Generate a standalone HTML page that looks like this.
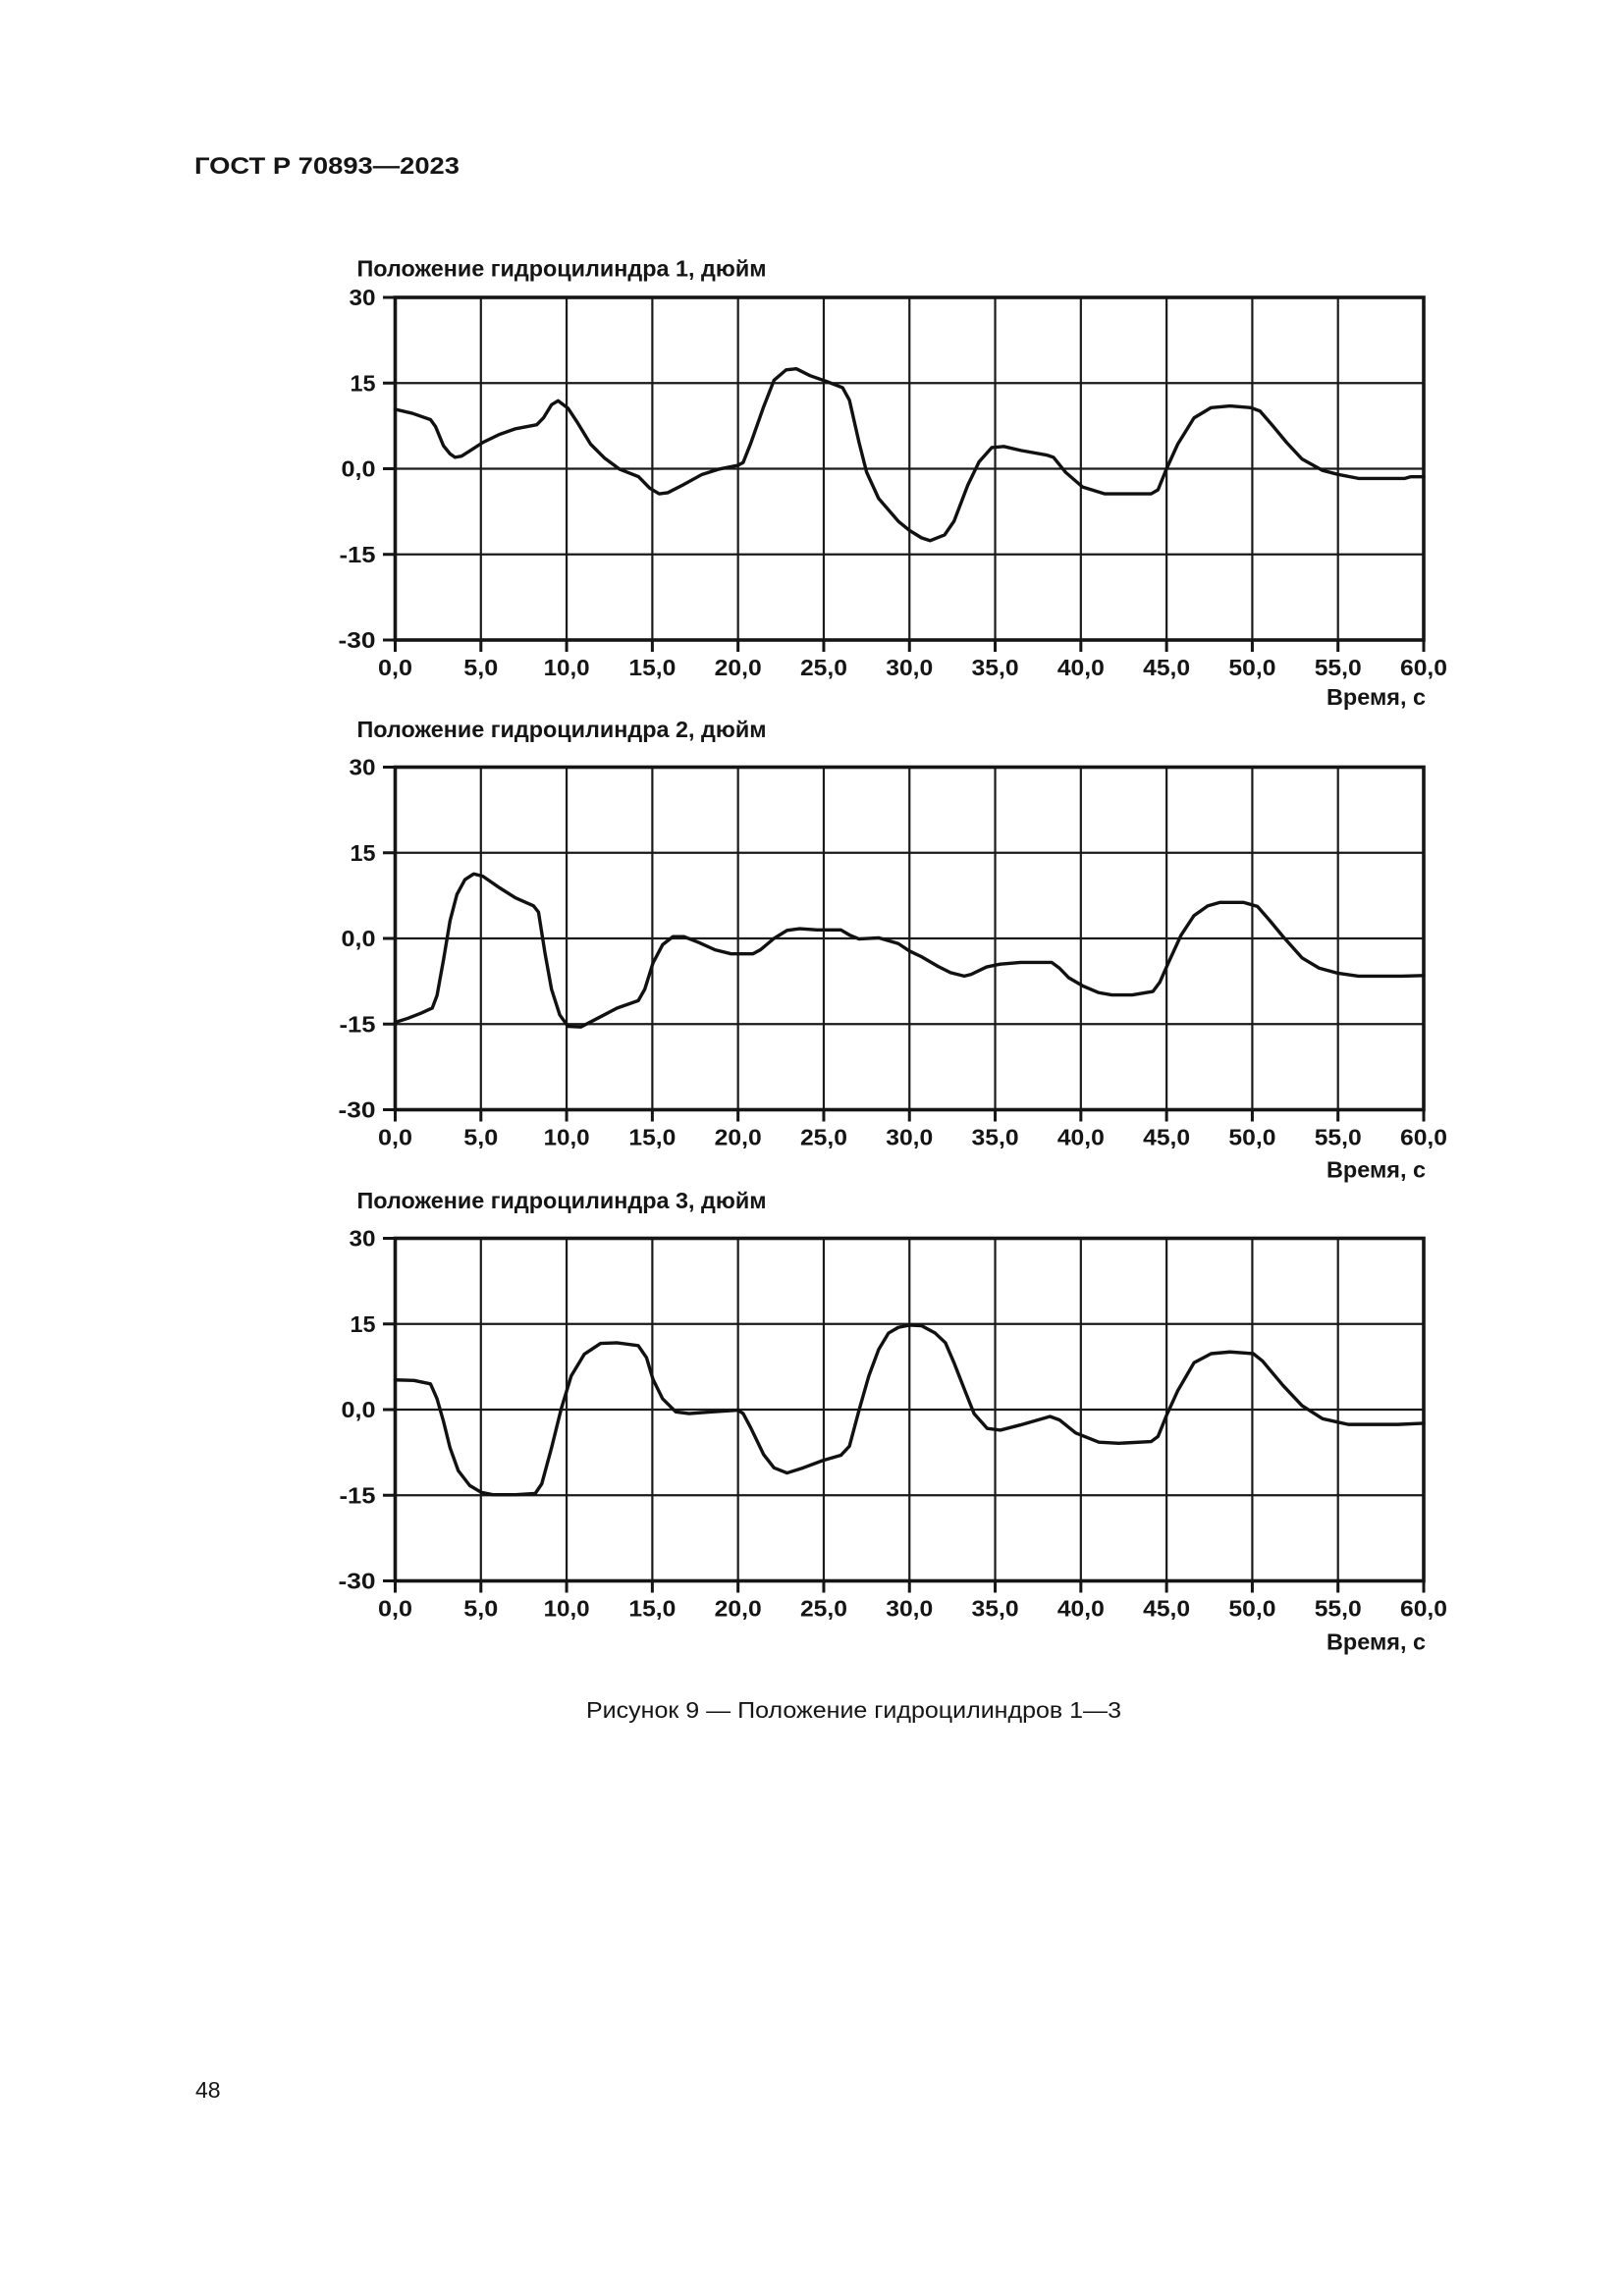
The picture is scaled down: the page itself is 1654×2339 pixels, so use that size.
<!DOCTYPE html>
<html><head><meta charset="utf-8"><style>
html,body{margin:0;padding:0;background:#fff;}
svg{display:block;}
text{font-family:"Liberation Sans",Arial,sans-serif;fill:#151515;}
.b{font-weight:bold;}
.g line{stroke:#1a1a1a;stroke-width:2.2;}
.fr{fill:none;stroke:#151515;stroke-width:3.6;}
.tk line{stroke:#151515;stroke-width:3;}
.cv{fill:none;stroke:#111;stroke-width:3.4;stroke-linejoin:round;stroke-linecap:round;vector-effect:non-scaling-stroke;}
.yl{font-size:23px;font-weight:bold;text-anchor:end;}
.xl{font-size:23px;font-weight:bold;text-anchor:middle;}
.tt{font-size:23px;font-weight:bold;}
</style></head><body>
<svg width="1654" height="2339" viewBox="0 0 1654 2339" xmlns="http://www.w3.org/2000/svg">
<rect width="1654" height="2339" fill="#fff"/>

<text x="198" y="177" class="b" font-size="24" textLength="270" lengthAdjust="spacingAndGlyphs">ГОСТ Р 70893—2023</text>

<!-- ================= CHART 1 ================= -->
<text x="363.5" y="281.7" class="tt" textLength="417" lengthAdjust="spacingAndGlyphs">Положение гидроцилиндра 1, дюйм</text>
<g class="g">
<line x1="489.79" y1="303" x2="489.79" y2="652"/><line x1="577.08" y1="303" x2="577.08" y2="652"/><line x1="664.38" y1="303" x2="664.38" y2="652"/><line x1="751.67" y1="303" x2="751.67" y2="652"/><line x1="838.96" y1="303" x2="838.96" y2="652"/><line x1="926.25" y1="303" x2="926.25" y2="652"/><line x1="1013.54" y1="303" x2="1013.54" y2="652"/><line x1="1100.83" y1="303" x2="1100.83" y2="652"/><line x1="1188.13" y1="303" x2="1188.13" y2="652"/><line x1="1275.42" y1="303" x2="1275.42" y2="652"/><line x1="1362.71" y1="303" x2="1362.71" y2="652"/>
<line x1="402.5" y1="390.25" x2="1450" y2="390.25"/><line x1="402.5" y1="477.5" x2="1450" y2="477.5"/><line x1="402.5" y1="564.75" x2="1450" y2="564.75"/>
</g>
<rect class="fr" x="402.5" y="303" width="1047.5" height="349"/>
<g class="tk">
<line x1="390" y1="303" x2="402.5" y2="303"/><line x1="390" y1="390.25" x2="402.5" y2="390.25"/><line x1="390" y1="477.5" x2="402.5" y2="477.5"/><line x1="390" y1="564.75" x2="402.5" y2="564.75"/><line x1="390" y1="652" x2="402.5" y2="652"/>
<line x1="402.5" y1="652" x2="402.5" y2="664"/><line x1="489.79" y1="652" x2="489.79" y2="664"/><line x1="577.08" y1="652" x2="577.08" y2="664"/><line x1="664.38" y1="652" x2="664.38" y2="664"/><line x1="751.67" y1="652" x2="751.67" y2="664"/><line x1="838.96" y1="652" x2="838.96" y2="664"/><line x1="926.25" y1="652" x2="926.25" y2="664"/><line x1="1013.54" y1="652" x2="1013.54" y2="664"/><line x1="1100.83" y1="652" x2="1100.83" y2="664"/><line x1="1188.13" y1="652" x2="1188.13" y2="664"/><line x1="1275.42" y1="652" x2="1275.42" y2="664"/><line x1="1362.71" y1="652" x2="1362.71" y2="664"/><line x1="1450" y1="652" x2="1450" y2="664"/>
</g>
<text class="yl" x="382.5" y="311" textLength="27" lengthAdjust="spacingAndGlyphs">30</text>
<text class="yl" x="382.5" y="398.25" textLength="26" lengthAdjust="spacingAndGlyphs">15</text>
<text class="yl" x="382.5" y="485.5" textLength="35" lengthAdjust="spacingAndGlyphs">0,0</text>
<text class="yl" x="382.5" y="572.75" textLength="37" lengthAdjust="spacingAndGlyphs">-15</text>
<text class="yl" x="382.5" y="660" textLength="38" lengthAdjust="spacingAndGlyphs">-30</text>
<text class="xl" x="402.5" y="688" textLength="35" lengthAdjust="spacingAndGlyphs">0,0</text>
<text class="xl" x="489.79" y="688" textLength="35" lengthAdjust="spacingAndGlyphs">5,0</text>
<text class="xl" x="577.08" y="688" textLength="47" lengthAdjust="spacingAndGlyphs">10,0</text>
<text class="xl" x="664.38" y="688" textLength="48" lengthAdjust="spacingAndGlyphs">15,0</text>
<text class="xl" x="751.67" y="688" textLength="48" lengthAdjust="spacingAndGlyphs">20,0</text>
<text class="xl" x="838.96" y="688" textLength="48" lengthAdjust="spacingAndGlyphs">25,0</text>
<text class="xl" x="926.25" y="688" textLength="48" lengthAdjust="spacingAndGlyphs">30,0</text>
<text class="xl" x="1013.54" y="688" textLength="48" lengthAdjust="spacingAndGlyphs">35,0</text>
<text class="xl" x="1100.83" y="688" textLength="48" lengthAdjust="spacingAndGlyphs">40,0</text>
<text class="xl" x="1188.13" y="688" textLength="48" lengthAdjust="spacingAndGlyphs">45,0</text>
<text class="xl" x="1275.42" y="688" textLength="48" lengthAdjust="spacingAndGlyphs">50,0</text>
<text class="xl" x="1362.71" y="688" textLength="48" lengthAdjust="spacingAndGlyphs">55,0</text>
<text class="xl" x="1450" y="688" textLength="48" lengthAdjust="spacingAndGlyphs">60,0</text>
<text class="b" x="1452" y="718" font-size="23" text-anchor="end" textLength="101" lengthAdjust="spacingAndGlyphs">Время, с</text>
<g transform="translate(402.5,477.5) scale(17.4583,-5.8167)">
<polyline class="cv" points="0,10.4 1.0,9.7 2.06,8.6 2.35,7.4 2.82,4.0 3.2,2.6 3.49,2.0 3.87,2.2 4.5,3.4 5.11,4.6 6.07,6.0 7.02,7.0 8.26,7.7 8.65,8.9 9.12,11.2 9.5,11.9 10.08,10.6 10.65,8.0 11.4,4.3 12.2,1.9 13.1,-0.1 14.2,-1.4 14.85,-3.4 15.4,-4.4 15.9,-4.2 16.75,-2.9 17.9,-1.0 18.85,-0.1 20.0,0.6 20.3,1.1 20.76,4.6 21.5,10.9 22.1,15.5 22.8,17.3 23.4,17.5 24.2,16.3 25.15,15.3 26.1,14.2 26.5,12.0 27.06,4.6 27.5,-0.6 28.2,-5.2 29.35,-9.2 30.0,-10.8 30.7,-12.1 31.2,-12.6 32.05,-11.6 32.6,-9.2 33.4,-2.9 34.06,1.2 34.8,3.7 35.5,3.9 36.5,3.2 38.0,2.4 38.4,2.0 39.1,-0.6 40.1,-3.2 41.4,-4.4 44.1,-4.4 44.5,-3.7 45,0 45.65,4.3 46.6,8.9 47.6,10.7 48.7,11.0 49.9,10.7 50.45,10.1 51.2,7.5 52.0,4.6 52.9,1.7 54.1,-0.3 55.0,-1.0 56.2,-1.7 58.9,-1.7 59.25,-1.4 60,-1.4"/>
</g>

<!-- ================= CHART 2 ================= -->
<text x="363.5" y="751" class="tt" textLength="417" lengthAdjust="spacingAndGlyphs">Положение гидроцилиндра 2, дюйм</text>
<g class="g">
<line x1="489.79" y1="781.5" x2="489.79" y2="1130.5"/><line x1="577.08" y1="781.5" x2="577.08" y2="1130.5"/><line x1="664.38" y1="781.5" x2="664.38" y2="1130.5"/><line x1="751.67" y1="781.5" x2="751.67" y2="1130.5"/><line x1="838.96" y1="781.5" x2="838.96" y2="1130.5"/><line x1="926.25" y1="781.5" x2="926.25" y2="1130.5"/><line x1="1013.54" y1="781.5" x2="1013.54" y2="1130.5"/><line x1="1100.83" y1="781.5" x2="1100.83" y2="1130.5"/><line x1="1188.13" y1="781.5" x2="1188.13" y2="1130.5"/><line x1="1275.42" y1="781.5" x2="1275.42" y2="1130.5"/><line x1="1362.71" y1="781.5" x2="1362.71" y2="1130.5"/>
<line x1="402.5" y1="868.75" x2="1450" y2="868.75"/><line x1="402.5" y1="956" x2="1450" y2="956"/><line x1="402.5" y1="1043.25" x2="1450" y2="1043.25"/>
</g>
<rect class="fr" x="402.5" y="781.5" width="1047.5" height="349"/>
<g class="tk">
<line x1="390" y1="781.5" x2="402.5" y2="781.5"/><line x1="390" y1="868.75" x2="402.5" y2="868.75"/><line x1="390" y1="956" x2="402.5" y2="956"/><line x1="390" y1="1043.25" x2="402.5" y2="1043.25"/><line x1="390" y1="1130.5" x2="402.5" y2="1130.5"/>
<line x1="402.5" y1="1130.5" x2="402.5" y2="1142.5"/><line x1="489.79" y1="1130.5" x2="489.79" y2="1142.5"/><line x1="577.08" y1="1130.5" x2="577.08" y2="1142.5"/><line x1="664.38" y1="1130.5" x2="664.38" y2="1142.5"/><line x1="751.67" y1="1130.5" x2="751.67" y2="1142.5"/><line x1="838.96" y1="1130.5" x2="838.96" y2="1142.5"/><line x1="926.25" y1="1130.5" x2="926.25" y2="1142.5"/><line x1="1013.54" y1="1130.5" x2="1013.54" y2="1142.5"/><line x1="1100.83" y1="1130.5" x2="1100.83" y2="1142.5"/><line x1="1188.13" y1="1130.5" x2="1188.13" y2="1142.5"/><line x1="1275.42" y1="1130.5" x2="1275.42" y2="1142.5"/><line x1="1362.71" y1="1130.5" x2="1362.71" y2="1142.5"/><line x1="1450" y1="1130.5" x2="1450" y2="1142.5"/>
</g>
<text class="yl" x="382.5" y="789.5" textLength="27" lengthAdjust="spacingAndGlyphs">30</text>
<text class="yl" x="382.5" y="876.75" textLength="26" lengthAdjust="spacingAndGlyphs">15</text>
<text class="yl" x="382.5" y="964" textLength="35" lengthAdjust="spacingAndGlyphs">0,0</text>
<text class="yl" x="382.5" y="1051.25" textLength="37" lengthAdjust="spacingAndGlyphs">-15</text>
<text class="yl" x="382.5" y="1138.5" textLength="38" lengthAdjust="spacingAndGlyphs">-30</text>
<text class="xl" x="402.5" y="1166.5" textLength="35" lengthAdjust="spacingAndGlyphs">0,0</text>
<text class="xl" x="489.79" y="1166.5" textLength="35" lengthAdjust="spacingAndGlyphs">5,0</text>
<text class="xl" x="577.08" y="1166.5" textLength="47" lengthAdjust="spacingAndGlyphs">10,0</text>
<text class="xl" x="664.38" y="1166.5" textLength="48" lengthAdjust="spacingAndGlyphs">15,0</text>
<text class="xl" x="751.67" y="1166.5" textLength="48" lengthAdjust="spacingAndGlyphs">20,0</text>
<text class="xl" x="838.96" y="1166.5" textLength="48" lengthAdjust="spacingAndGlyphs">25,0</text>
<text class="xl" x="926.25" y="1166.5" textLength="48" lengthAdjust="spacingAndGlyphs">30,0</text>
<text class="xl" x="1013.54" y="1166.5" textLength="48" lengthAdjust="spacingAndGlyphs">35,0</text>
<text class="xl" x="1100.83" y="1166.5" textLength="48" lengthAdjust="spacingAndGlyphs">40,0</text>
<text class="xl" x="1188.13" y="1166.5" textLength="48" lengthAdjust="spacingAndGlyphs">45,0</text>
<text class="xl" x="1275.42" y="1166.5" textLength="48" lengthAdjust="spacingAndGlyphs">50,0</text>
<text class="xl" x="1362.71" y="1166.5" textLength="48" lengthAdjust="spacingAndGlyphs">55,0</text>
<text class="xl" x="1450" y="1166.5" textLength="48" lengthAdjust="spacingAndGlyphs">60,0</text>
<text class="b" x="1452" y="1199.5" font-size="23" text-anchor="end" textLength="101" lengthAdjust="spacingAndGlyphs">Время, с</text>
<g transform="translate(402.5,956) scale(17.4583,-5.8167)">
<polyline class="cv" points="0,-14.7 0.73,-14.0 1.5,-13.1 2.16,-12.2 2.44,-10 2.82,-3.7 3.2,3.1 3.6,7.7 4.07,10.3 4.58,11.3 5.11,10.9 6.07,8.9 7.02,7.1 8.07,5.7 8.36,4.6 8.74,-2.6 9.12,-8.9 9.6,-13.4 10.08,-15.4 10.84,-15.5 11.8,-14.0 12.94,-12.2 14.18,-10.9 14.56,-8.9 15.04,-4.3 15.6,-1.1 16.2,0.3 16.85,0.3 17.7,-0.7 18.66,-2.0 19.6,-2.7 20.86,-2.7 21.3,-2.0 22.1,0 22.86,1.4 23.6,1.7 24.6,1.5 26.0,1.5 26.5,0.6 27.06,-0.1 28.2,0.1 29.35,-0.9 30.0,-2.2 30.7,-3.2 31.67,-4.9 32.4,-6.0 33.2,-6.6 33.6,-6.3 34.5,-5.0 35.3,-4.5 36.5,-4.2 38.3,-4.2 38.75,-5.2 39.3,-6.9 40.1,-8.3 41.05,-9.5 41.8,-9.9 43.0,-9.9 44.2,-9.3 44.6,-7.7 45.1,-4.3 45.85,0.6 46.6,4.0 47.4,5.7 48.1,6.3 49.5,6.3 50.3,5.6 51.0,3.2 51.8,0.3 52.9,-3.4 53.9,-5.2 55.0,-6.1 56.2,-6.6 58.7,-6.6 60,-6.5"/>
</g>

<!-- ================= CHART 3 ================= -->
<text x="363.5" y="1231" class="tt" textLength="417" lengthAdjust="spacingAndGlyphs">Положение гидроцилиндра 3, дюйм</text>
<g class="g">
<line x1="489.79" y1="1261.5" x2="489.79" y2="1610.5"/><line x1="577.08" y1="1261.5" x2="577.08" y2="1610.5"/><line x1="664.38" y1="1261.5" x2="664.38" y2="1610.5"/><line x1="751.67" y1="1261.5" x2="751.67" y2="1610.5"/><line x1="838.96" y1="1261.5" x2="838.96" y2="1610.5"/><line x1="926.25" y1="1261.5" x2="926.25" y2="1610.5"/><line x1="1013.54" y1="1261.5" x2="1013.54" y2="1610.5"/><line x1="1100.83" y1="1261.5" x2="1100.83" y2="1610.5"/><line x1="1188.13" y1="1261.5" x2="1188.13" y2="1610.5"/><line x1="1275.42" y1="1261.5" x2="1275.42" y2="1610.5"/><line x1="1362.71" y1="1261.5" x2="1362.71" y2="1610.5"/>
<line x1="402.5" y1="1348.75" x2="1450" y2="1348.75"/><line x1="402.5" y1="1436" x2="1450" y2="1436"/><line x1="402.5" y1="1523.25" x2="1450" y2="1523.25"/>
</g>
<rect class="fr" x="402.5" y="1261.5" width="1047.5" height="349"/>
<g class="tk">
<line x1="390" y1="1261.5" x2="402.5" y2="1261.5"/><line x1="390" y1="1348.75" x2="402.5" y2="1348.75"/><line x1="390" y1="1436" x2="402.5" y2="1436"/><line x1="390" y1="1523.25" x2="402.5" y2="1523.25"/><line x1="390" y1="1610.5" x2="402.5" y2="1610.5"/>
<line x1="402.5" y1="1610.5" x2="402.5" y2="1622.5"/><line x1="489.79" y1="1610.5" x2="489.79" y2="1622.5"/><line x1="577.08" y1="1610.5" x2="577.08" y2="1622.5"/><line x1="664.38" y1="1610.5" x2="664.38" y2="1622.5"/><line x1="751.67" y1="1610.5" x2="751.67" y2="1622.5"/><line x1="838.96" y1="1610.5" x2="838.96" y2="1622.5"/><line x1="926.25" y1="1610.5" x2="926.25" y2="1622.5"/><line x1="1013.54" y1="1610.5" x2="1013.54" y2="1622.5"/><line x1="1100.83" y1="1610.5" x2="1100.83" y2="1622.5"/><line x1="1188.13" y1="1610.5" x2="1188.13" y2="1622.5"/><line x1="1275.42" y1="1610.5" x2="1275.42" y2="1622.5"/><line x1="1362.71" y1="1610.5" x2="1362.71" y2="1622.5"/><line x1="1450" y1="1610.5" x2="1450" y2="1622.5"/>
</g>
<text class="yl" x="382.5" y="1269.5" textLength="27" lengthAdjust="spacingAndGlyphs">30</text>
<text class="yl" x="382.5" y="1356.75" textLength="26" lengthAdjust="spacingAndGlyphs">15</text>
<text class="yl" x="382.5" y="1444" textLength="35" lengthAdjust="spacingAndGlyphs">0,0</text>
<text class="yl" x="382.5" y="1531.25" textLength="37" lengthAdjust="spacingAndGlyphs">-15</text>
<text class="yl" x="382.5" y="1618.5" textLength="38" lengthAdjust="spacingAndGlyphs">-30</text>
<text class="xl" x="402.5" y="1646.5" textLength="35" lengthAdjust="spacingAndGlyphs">0,0</text>
<text class="xl" x="489.79" y="1646.5" textLength="35" lengthAdjust="spacingAndGlyphs">5,0</text>
<text class="xl" x="577.08" y="1646.5" textLength="47" lengthAdjust="spacingAndGlyphs">10,0</text>
<text class="xl" x="664.38" y="1646.5" textLength="48" lengthAdjust="spacingAndGlyphs">15,0</text>
<text class="xl" x="751.67" y="1646.5" textLength="48" lengthAdjust="spacingAndGlyphs">20,0</text>
<text class="xl" x="838.96" y="1646.5" textLength="48" lengthAdjust="spacingAndGlyphs">25,0</text>
<text class="xl" x="926.25" y="1646.5" textLength="48" lengthAdjust="spacingAndGlyphs">30,0</text>
<text class="xl" x="1013.54" y="1646.5" textLength="48" lengthAdjust="spacingAndGlyphs">35,0</text>
<text class="xl" x="1100.83" y="1646.5" textLength="48" lengthAdjust="spacingAndGlyphs">40,0</text>
<text class="xl" x="1188.13" y="1646.5" textLength="48" lengthAdjust="spacingAndGlyphs">45,0</text>
<text class="xl" x="1275.42" y="1646.5" textLength="48" lengthAdjust="spacingAndGlyphs">50,0</text>
<text class="xl" x="1362.71" y="1646.5" textLength="48" lengthAdjust="spacingAndGlyphs">55,0</text>
<text class="xl" x="1450" y="1646.5" textLength="48" lengthAdjust="spacingAndGlyphs">60,0</text>
<text class="b" x="1452" y="1680.5" font-size="23" text-anchor="end" textLength="101" lengthAdjust="spacingAndGlyphs">Время, с</text>
<g transform="translate(402.5,1436) scale(17.4583,-5.8167)">
<polyline class="cv" points="0,5.2 1.1,5.1 2.06,4.5 2.44,1.9 2.82,-2.1 3.2,-6.7 3.68,-10.7 4.35,-13.3 5.02,-14.5 5.69,-14.9 7.02,-14.9 8.17,-14.7 8.55,-13.0 9.12,-6.7 9.69,0.2 10.27,5.9 11.03,9.7 11.98,11.6 12.94,11.7 14.18,11.2 14.66,9.1 15.04,5.3 15.6,1.9 16.37,-0.4 17.14,-0.7 18.47,-0.4 20.0,-0.1 20.3,-0.7 20.76,-3.3 21.5,-7.9 22.1,-10.2 22.86,-11.1 23.8,-10.2 24.96,-8.9 26.0,-8.0 26.5,-6.4 27.06,-0.1 27.63,5.9 28.2,10.5 28.78,13.4 29.35,14.4 30.0,14.8 30.7,14.7 31.5,13.4 32.1,11.7 32.6,8.2 33.2,3.6 33.77,-0.7 34.54,-3.3 35.3,-3.6 36.46,-2.7 38.2,-1.2 38.75,-1.8 39.7,-4.1 41.05,-5.7 42.2,-5.9 44.1,-5.6 44.5,-4.7 45,-1.0 45.65,3.3 46.6,8.2 47.6,9.8 48.7,10.1 50.06,9.8 50.6,8.5 51.8,4.2 52.9,0.7 54.1,-1.6 55.0,-2.2 55.6,-2.6 58.5,-2.6 60,-2.4"/>
</g>

<text x="597" y="1750" font-size="23" textLength="545" lengthAdjust="spacingAndGlyphs">Рисунок 9 — Положение гидроцилиндров 1—3</text>
<text x="199" y="2137" font-size="23">48</text>
</svg>
</body></html>
